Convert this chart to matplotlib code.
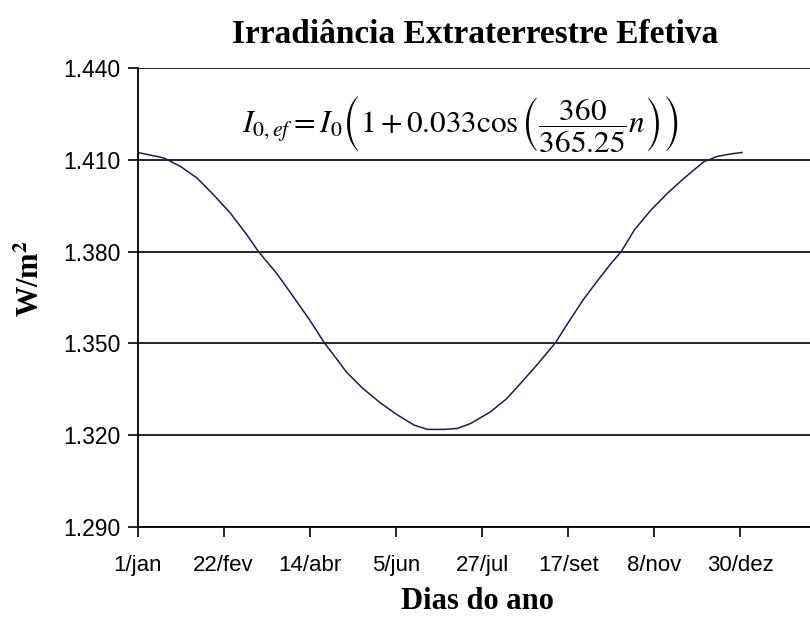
import matplotlib.pyplot as plt
import numpy as np

# dia do ano (ano bissexto) e irradiancia
dias = [1, 17, 27, 37, 47, 57, 67, 74, 85, 95, 105, 114, 121, 127, 137, 148,
        158, 168, 176, 186, 194, 202, 214, 224, 234, 242, 253, 262, 270, 279,
        287, 293, 301, 311, 321, 331, 343, 351, 359, 366]
irrad = [1.4124, 1.4106, 1.4078, 1.4040, 1.3985, 1.3926, 1.3855, 1.3800,
         1.3729, 1.3653, 1.3576, 1.3500, 1.3451, 1.3407, 1.3353, 1.3304,
         1.3266, 1.3233, 1.3219, 1.3219, 1.3222, 1.3238, 1.3276, 1.3320,
         1.3380, 1.3429, 1.3500, 1.3576, 1.3642, 1.3707, 1.3762, 1.3800,
         1.3871, 1.3936, 1.3991, 1.4040, 1.4094, 1.4111, 1.4119, 1.4124]

xticks = [1, 53, 105, 157, 209, 261, 313, 365]
xlabels = ['1/jan', '22/fev', '14/abr', '5/jun', '27/jul', '17/set', '8/nov', '30/dez']
yticks = [1.290, 1.320, 1.350, 1.380, 1.410, 1.440]
ylabels = ['1.290', '1.320', '1.350', '1.380', '1.410', '1.440']

plt.rcParams['mathtext.fontset'] = 'stix'

fig = plt.figure(figsize=(8.1, 6.22), dpi=100)
ax = fig.add_axes([0.1698, 0.1527, 0.8302, 0.738])

ax.plot(dias, irrad, color='#1c1c50', lw=1.1)

ax.set_xlim(1, 407)
ax.set_ylim(1.290, 1.440)
ax.set_xticks(xticks)
ax.set_xticklabels(xlabels, family='Liberation Sans', fontsize=16)
ax.set_yticks(yticks)
ax.set_yticklabels(ylabels, family='Liberation Sans', fontsize=16.5)
ax.tick_params(direction='out', length=7, width=1.2, color='black')
ax.tick_params(axis='x', pad=13)
ax.tick_params(axis='y', pad=5)

ax.grid(True, axis='y', color='black', lw=1.2)
ax.set_axisbelow(True)
for s in ['top', 'right']:
    ax.spines[s].set_visible(False)
for s in ['left', 'bottom']:
    ax.spines[s].set_linewidth(1.3)

fig.text(0.586, 0.945, 'Irradiância Extraterrestre Efetiva', ha='center', va='center',
         family='Liberation Serif', fontweight='bold', fontsize=24)
fig.text(0.589, 0.033, 'Dias do ano', ha='center', va='center',
         family='Liberation Serif', fontweight='bold', fontsize=22)
fig.text(0.038, 0.552, r'W/m$^{\mathbf{2}}$', ha='center', va='center', rotation=90,
         family='Liberation Serif', fontweight='bold', fontsize=22)

ax.text(0.48, 0.877,
        r'$I_{0,ef} = I_0\left(1+0.033\cos\left(\dfrac{360}{365.25}n\right)\right)$',
        transform=ax.transAxes, ha='center', va='center', fontsize=22.5)

fig.savefig('out.png', dpi=100)
